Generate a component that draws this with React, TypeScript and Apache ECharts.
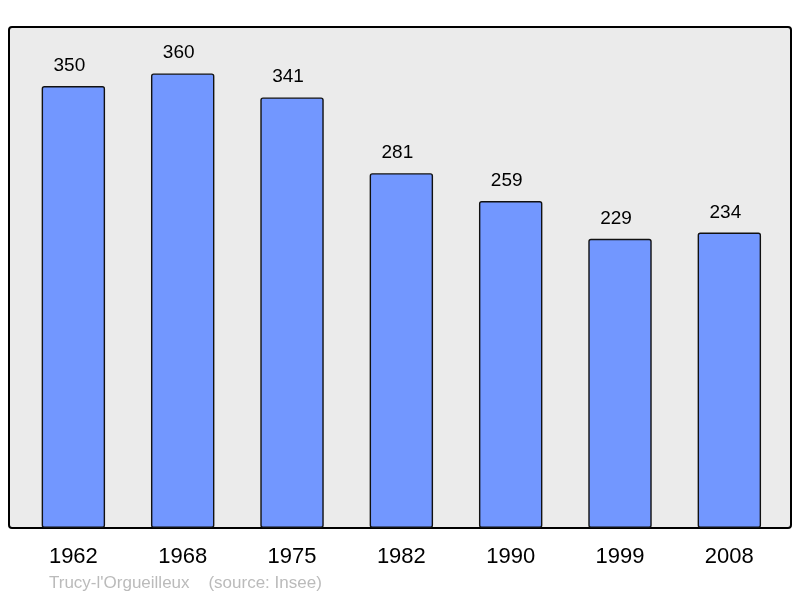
import React, { useEffect, useRef } from "react";
import * as echarts from "echarts";

const years = ["1962", "1968", "1975", "1982", "1990", "1999", "2008"];
const population = [350, 360, 341, 281, 259, 229, 234];
const sourceText = "Trucy-l'Orgueilleux    (source: Insee)";

const FONT = "'Liberation Sans', Arial, sans-serif";

export default function App() {
  const ref = useRef<HTMLDivElement>(null);
  useEffect(() => {
    if (!ref.current) return;
    const chart = echarts.init(ref.current, undefined, { renderer: "svg" });
    chart.setOption({
      animation: false,
      graphic: [
        {
          type: "rect",
          shape: { x: 9, y: 27, width: 782, height: 501, r: 3 },
          style: { fill: "#ebebeb", stroke: "#000", lineWidth: 2 },
          z: -10,
          silent: true,
        },
        {
          type: "text",
          x: 49,
          y: 574,
          style: {
            text: sourceText,
            fill: "#bbbbbb",
            font: `17px ${FONT}`,
          },
        },
      ],
      grid: { left: 18.7, right: 16, top: 28, bottom: 70 },
      xAxis: {
        type: "category",
        data: years,
        axisLine: { show: false },
        axisTick: { show: false },
        axisLabel: {
          color: "#000",
          fontSize: 22,
          fontFamily: FONT,
          margin: 16,
        },
      },
      yAxis: {
        type: "value",
        min: 0,
        max: 396,
        show: false,
        splitLine: { show: false },
      },
      series: [
        {
          type: "bar",
          data: population,
          barWidth: "58%",
          itemStyle: {
            color: "#7297ff",
            borderColor: "#111",
            borderWidth: 1.4,
            borderRadius: 2,
          },
          label: {
            show: true,
            position: "top",
            distance: 12,
            offset: [-4, 0],
            color: "#000",
            fontSize: 19,
            fontFamily: FONT,
          },
        },
      ],
    });
    return () => chart.dispose();
  }, []);
  return (
    <div
      ref={ref}
      style={{ position: "fixed", left: 0, top: 0, width: 800, height: 598 }}
    />
  );
}
